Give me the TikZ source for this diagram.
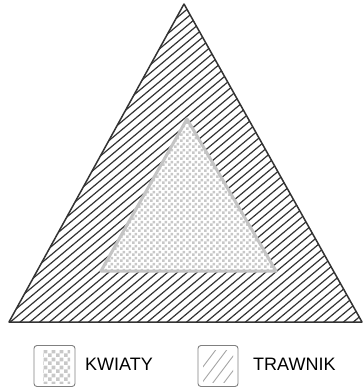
\documentclass[tikz,border=0pt]{standalone}
\usepackage{fontspec}
\setmainfont{Liberation Sans}
\usetikzlibrary{patterns,patterns.meta}
\definecolor{hatchc}{HTML}{333333}
\definecolor{inneredge}{HTML}{C4C4C4}
\definecolor{checkc}{HTML}{C8C8C8}
\definecolor{boxedge}{HTML}{808080}
\tikzdeclarepattern{
  name=checkA,
  type=uncolored,
  bounding box={(0pt,0pt) and (6pt,6pt)},
  tile size={(6pt,6pt)},
  code={\fill (0pt,0pt) rectangle (3pt,3pt); \fill (3pt,3pt) rectangle (6pt,6pt);}
}
\tikzdeclarepattern{
  name=checkB,
  type=uncolored,
  bounding box={(0pt,0pt) and (8pt,8pt)},
  tile size={(8pt,8pt)},
  code={\fill (0pt,0pt) rectangle (4pt,4pt); \fill (4pt,4pt) rectangle (8pt,8pt);}
}
\tikzset{
  outeredge/.style={draw=hatchc, line width=1.5pt, line join=round},
  hatchline/.style={draw=hatchc, line width=1.2pt},
  innertri/.style={draw=inneredge, line width=3pt, line join=round,
    pattern=checkA, pattern color=checkc},
  legbox/.style={draw=boxedge, line width=0.9pt, rounded corners=3pt, fill=white},
  leghatch/.style={draw=gray!70, line width=0.9pt},
  legtext/.style={font=\fontsize{18}{20}\selectfont, text=black, inner sep=0pt}
}
\begin{document}
\begin{tikzpicture}[x=1pt,y=-1pt]
\useasboundingbox (0,0) rectangle (362,388);
% outer triangle (lawn)
\coordinate (oA) at (184,4);
\coordinate (oB) at (9,322);
\coordinate (oC) at (362,322);
\fill[white] (oA) -- (oB) -- (oC) -- cycle;
\begin{scope}
\clip (oA) -- (oB) -- (oC) -- cycle;
\foreach \c in {-205,-195.2,...,370} {
  \draw[hatchline] (\c,330) -- ++(400,-335.6);
}
\end{scope}
\path[outeredge] (oA) -- (oB) -- (oC) -- cycle;
% inner triangle (flowers)
\coordinate (iA) at (187,119);
\coordinate (iB) at (101,271);
\coordinate (iC) at (276,271);
\fill[white] (iA) -- (iB) -- (iC) -- cycle;
\path[innertri] (iA) -- (iB) -- (iC) -- cycle;
% legend
\node[legbox, minimum width=41pt, minimum height=41pt, inner sep=0pt] (k1) at (54.5,366) {};
\fill[pattern=checkB, pattern color=checkc] (43,350) rectangle (70,383);
\node[legtext, anchor=west] (t1) at (85,364) {KWIATY};
\node[legbox, minimum width=40pt, minimum height=41pt, inner sep=0pt] (k2) at (218,366) {};
\begin{scope}
\clip (203,350) rectangle (233,382);
\foreach \c in {190,201,...,240} {
  \draw[leghatch] (\c,384) -- ++(40,-53);
}
\end{scope}
\node[legtext, anchor=west] (t2) at (253,364) {TRAWNIK};
\end{tikzpicture}
\end{document}
